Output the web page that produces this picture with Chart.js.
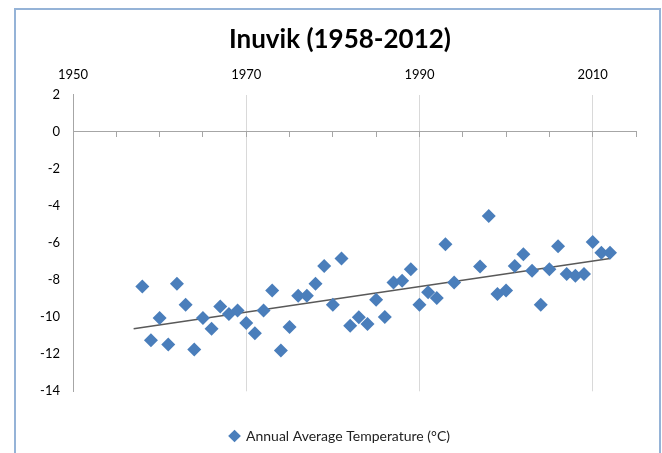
<!DOCTYPE html>
<html>
<head>
<meta charset="utf-8">
<script src="https://cdn.jsdelivr.net/npm/chart.js@4"></script>
<style>
  html, body { margin: 0; padding: 0; background: #fff; }
  #wrap { position: relative; width: 662px; height: 453px; overflow: hidden; }
  #frame { position: absolute; left: 14px; top: 8px; width: 643px; height: 470px; border: 2px solid #95b3d7; pointer-events: none; }
</style>
</head>
<body>
<div id="wrap">
  <canvas id="chart" width="662" height="453"></canvas>
  <div id="frame"></div>
</div>
<script>
// Inuvik annual average temperature
const years = [1958, 1959, 1960, 1961, 1962, 1963, 1964, 1965, 1966, 1967,
  1968, 1969, 1970, 1971, 1972, 1973, 1974, 1975, 1976, 1977,
  1978, 1979, 1980, 1981, 1982, 1983, 1984, 1985, 1986, 1987,
  1988, 1989, 1990, 1991, 1992, 1993, 1994, 1997, 1998, 1999,
  2000, 2001, 2002, 2003, 2004, 2005, 2006, 2007, 2008, 2009,
  2010, 2011, 2012];
const temps = [-8.35, -11.24, -10.04, -11.47, -8.2, -9.33, -11.74, -10.04, -10.63, -9.42,
  -9.83, -9.64, -10.31, -10.87, -9.64, -8.56, -11.8, -10.53, -8.85, -8.85,
  -8.2, -7.24, -9.33, -6.83, -10.46, -10.0, -10.37, -9.06, -9.99, -8.13,
  -8.03, -7.42, -9.33, -8.65, -8.97, -6.06, -8.13, -7.27, -4.54, -8.75,
  -8.56, -7.24, -6.61, -7.5, -9.33, -7.42, -6.17, -7.67, -7.77, -7.67,
  -5.94, -6.52, -6.52];

// linear trend line end points
const trendYears = [1957, 2012];
const trendTemps = [-10.63, -6.83];

const xTickLabels = [1950, 1970, 1990, 2010];
const xMinorTicks = [1950, 1955, 1960, 1965, 1970, 1975, 1980, 1985, 1990, 1995, 2000, 2005, 2010, 2015];
const yTickLabels = [2, 0, -2, -4, -6, -8, -10, -12, -14];

const blue = '#4a7ebb';
const fontFamily = 'Lato, "Open Sans", sans-serif';

const ctx = document.getElementById('chart').getContext('2d');

new Chart(ctx, {
  type: 'scatter',
  data: {
    datasets: [
      {
        label: 'Annual Average Temperature (°C)',
        data: years.map((y, i) => ({ x: y, y: temps[i] })),
        backgroundColor: blue,
        borderColor: blue,
        pointStyle: 'rectRot',
        pointRadius: 7,
        pointHoverRadius: 7,
        borderWidth: 0
      },
      {
        label: 'trend',
        type: 'line',
        data: trendYears.map((y, i) => ({ x: y, y: trendTemps[i] })),
        borderColor: '#595959',
        borderWidth: 1.5,
        pointRadius: 0,
        fill: false
      }
    ]
  },
  options: {
    responsive: false,
    animation: false,
    layout: { padding: { left: 44, right: 26, top: 0, bottom: 0 } },
    plugins: {
      title: {
        display: true,
        text: 'Inuvik (1958-2012)',
        color: '#000',
        font: { family: fontFamily, size: 26, weight: 'bold' },
        padding: { top: 24, bottom: 0 }
      },
      legend: {
        position: 'bottom',
        title: { display: true, text: ' ', font: { size: 1 }, padding: { top: 30.5, bottom: 0 } },
        labels: {
          color: '#222',
          font: { family: fontFamily, size: 14 },
          usePointStyle: true,
          boxWidth: 9,
          boxHeight: 9,
          padding: 6,
          filter: item => item.datasetIndex === 0
        }
      },
      tooltip: { enabled: false }
    },
    scales: {
      x: {
        type: 'linear',
        position: 'top',
        min: 1950,
        max: 2015,
        afterBuildTicks: s => { s.ticks = xTickLabels.map(v => ({ value: v })); },
        ticks: {
          color: '#000',
          font: { family: fontFamily, size: 13 },
          padding: 12,
          callback: v => String(v)
        },
        grid: { color: '#d9d9d9', drawTicks: false, lineWidth: 1 },
        border: { display: false }
      },
      x0: {
        type: 'linear',
        position: { y: 0 },
        min: 1950,
        max: 2015,
        afterBuildTicks: s => { s.ticks = xMinorTicks.map(v => ({ value: v })); },
        ticks: { display: false },
        grid: { drawOnChartArea: false, color: '#a6a6a6', tickLength: 5 },
        border: { color: '#a6a6a6', width: 1 }
      },
      y: {
        type: 'linear',
        min: -14,
        max: 2,
        afterBuildTicks: s => { s.ticks = yTickLabels.map(v => ({ value: v })); },
        afterFit: s => {
          s.width = 29;
          // labels reach past the narrow axis box, so don't clip them
          s._computeLabelArea = () => undefined;
        },
        ticks: {
          color: '#000',
          font: { family: fontFamily, size: 13 },
          padding: 13
        },
        grid: { drawOnChartArea: false, drawTicks: false },
        border: { color: '#a6a6a6', width: 1 }
      }
    }
  }
});
</script>
</body>
</html>
